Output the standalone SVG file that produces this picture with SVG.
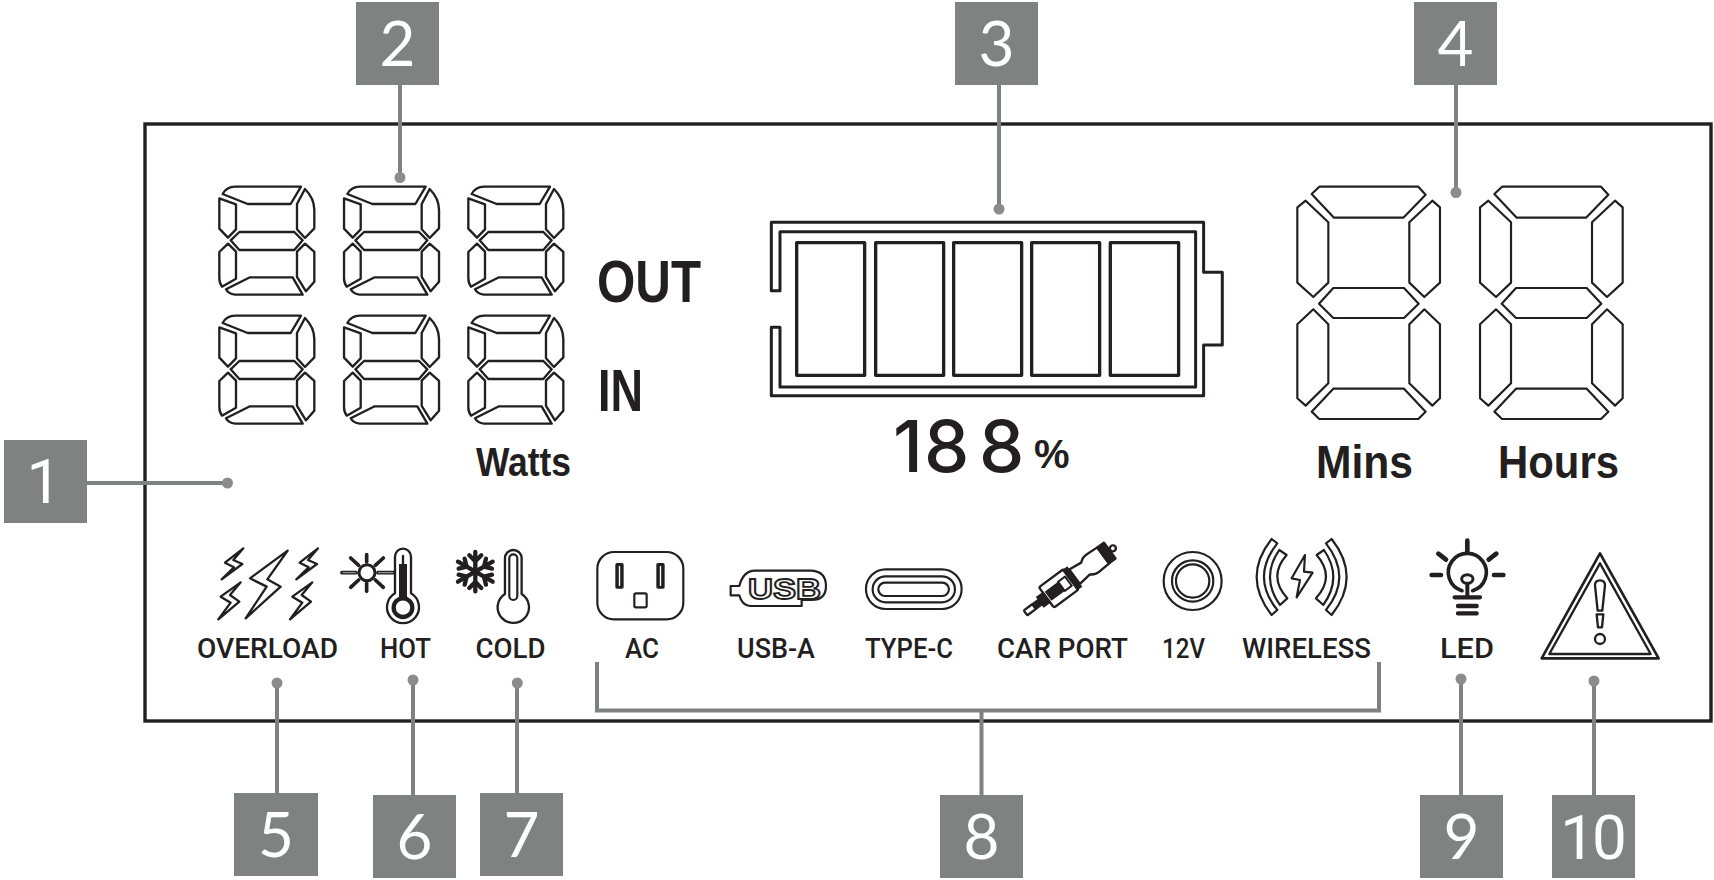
<svg xmlns="http://www.w3.org/2000/svg" xmlns:xlink="http://www.w3.org/1999/xlink" width="1714" height="880" viewBox="0 0 1714 880">
<style>
.o{fill:none;stroke:#231f20;stroke-linejoin:round;stroke-linecap:round}
.f{fill:#231f20}
.b{fill:#808282}
.n{fill:#fff;font-family:"Lato","Open Sans",sans-serif;font-size:62px;text-anchor:middle}
.r{font-family:"Roboto","Open Sans",sans-serif}
.l{fill:#231f20;font-family:"Liberation Sans",Arial,sans-serif;font-weight:700}
.s{font-family:"Roboto","Liberation Sans",sans-serif;font-weight:500;font-size:28px}
.leader{fill:none;stroke:#808282;stroke-width:4}
.dot{fill:#8c8c8c}
</style>
<defs>
<g id="sm" class="o" stroke-width="7">
<path d="M68,72Q80,50 105,50L303,50L272,102L143,102Z"/>
<path d="M58,85L108,103V178L84,203L58,176Z"/>
<path d="M315,57Q343,85 343,120V175L315,204L291,178V102Z"/>
<path d="M92,211L118,186H283L308,211L283,240H118Z"/>
<path d="M84,221L108,245V326L66,350Q58,340 58,325V246Z"/>
<path d="M315,221L343,246V335L318,364L291,321V245Z"/>
<path d="M78,358L150,322H278L308,374H105Q85,372 78,358Z"/>
</g>
<g id="lg" class="o" stroke-width="6.500">
<path d="M125,72L148,50H445L467,74L400,143H192Z"/>
<path d="M82,112L107,92L175,157V338L130,381L82,338Z"/>
<path d="M487,92L510,112V338L463,381L418,338V157Z"/>
<path d="M147,401L190,354H402L446,401L402,444H190Z"/>
<path d="M130,418L175,463V640L107,707L82,685V463Z"/>
<path d="M463,418L510,463V685L487,707L418,640V463Z"/>
<path d="M125,725L190,656H402L467,725L445,747H148Z"/>
</g>
<path id="bolt" d="M100,25L45,68L72,82L35,118L97,72L70,60Z"/>
<path id="bolt2" d="M92,127L32,170L62,188L25,238L88,185L60,165Z"/>
<g id="wave">
<path d="M845,57Q755,171 845,285L862,270Q782,171 862,70Z"/>
<path d="M868,90Q811,172 870,255L892,235Q833,170 890,105Z"/>
</g>
</defs>

<rect id="panel" x="145" y="124" width="1566" height="597" fill="none" stroke="#231f20" stroke-width="3.400"/>

<g id="watts-display">
<use xlink:href="#sm" href="#sm" transform="translate(200,170) scale(.3333)"/>
<use xlink:href="#sm" href="#sm" transform="translate(324.700,170) scale(.3333)"/>
<use xlink:href="#sm" href="#sm" transform="translate(449,170) scale(.3333)"/>
<use xlink:href="#sm" href="#sm" transform="translate(200,299) scale(.3333)"/>
<use xlink:href="#sm" href="#sm" transform="translate(324.700,299) scale(.3333)"/>
<use xlink:href="#sm" href="#sm" transform="translate(449,299) scale(.3333)"/>
<text class="l" x="597" y="302" font-size="60" textLength="104" lengthAdjust="spacingAndGlyphs">OUT</text>
<text class="l" x="598" y="411" font-size="60" textLength="45" lengthAdjust="spacingAndGlyphs">IN</text>
<text class="l" x="476" y="476" font-size="41" textLength="95" lengthAdjust="spacingAndGlyphs">Watts</text>
</g>

<g id="battery">
<g transform="translate(750,200) scale(.3333)">
<path class="o" stroke-width="9" d="M64,272V67H1361V217H1417V435H1361V587H64V382H90V561H1337V95H90V272Z"/>
<g class="o" stroke-width="10">
<rect x="140" y="128" width="204" height="398"/>
<rect x="377" y="128" width="204" height="398"/>
<rect x="611" y="128" width="204" height="398"/>
<rect x="845" y="128" width="204" height="398"/>
<rect x="1081" y="128" width="205" height="398"/>
</g>
</g>
<text class="f" font-family="Inter,'Open Sans',sans-serif" font-weight="500" font-size="72" y="472" x="893 924 979">188<tspan font-family="'Liberation Sans',sans-serif" font-weight="700" font-size="40" x="1034" y="468">%</tspan></text>
</g>

<g id="timer-display">
<use xlink:href="#lg" href="#lg" transform="translate(1270,170) scale(.3333)"/>
<use xlink:href="#lg" href="#lg" transform="translate(1452.700,170) scale(.3333)"/>
<text class="l" x="1316" y="478" font-size="47" textLength="97" lengthAdjust="spacingAndGlyphs">Mins</text>
<text class="l" x="1498" y="478" font-size="47" textLength="121" lengthAdjust="spacingAndGlyphs">Hours</text>
</g>

<g id="overload">
<g transform="translate(210,540) scale(.3333)" class="o" stroke-width="7">
<path d="M233,32L120,115L170,140L107,235L212,140L172,118Z"/>
<use xlink:href="#bolt" href="#bolt"/>
<use xlink:href="#bolt" href="#bolt" transform="translate(224,0)"/>
<use xlink:href="#bolt2" href="#bolt2"/>
<use xlink:href="#bolt2" href="#bolt2" transform="translate(215,0)"/>
</g>
<text class="l s" x="197" y="658" textLength="141" lengthAdjust="spacingAndGlyphs">OVERLOAD</text>
</g>

<g id="hot">
<g transform="translate(340,540) scale(.3333)">
<g class="o" stroke-width="11">
<circle cx="81" cy="98" r="24" stroke-width="9"/>
<path d="M6,98H48M114,98H160M80,44V66M80,130V154M32,54L56,76M130,54L106,76M32,142L56,120M130,142L106,120"/>
</g>
<path d="M8,98H48M114,98H160" fill="none" stroke="#a9a9a9" stroke-width="3"/>
<path class="o" stroke-width="7" fill="#fff" d="M165,50A24,24 0 0 1 213,50V160A48,48 0 1 1 165,160Z"/>
<rect class="f" x="177" y="72" width="24" height="110"/>
<path class="o" stroke-width="7" d="M189,48V72"/>
<circle cx="189" cy="203" r="28" fill="#fff" stroke="#231f20" stroke-width="13"/>
</g>
<text class="l s" x="380" y="658" textLength="51" lengthAdjust="spacingAndGlyphs">HOT</text>
</g>

<g id="cold">
<g transform="translate(190,530) scale(.3333)">
<g class="o" stroke-width="13">
<path d="M856,66V184M804,95L908,155M804,155L908,95"/>
<path d="M838,76L856,94L874,76M838,174L856,156L874,174M806,116L830,110L824,86M906,116L882,110L888,86M806,134L830,140L824,164M906,134L882,140L888,164"/>
</g>
<path class="o" stroke-width="7" d="M945,85A25,25 0 0 1 995,85V192A47,47 0 1 1 945,192Z"/>
<path class="o" stroke-width="6.500" d="M958,85A12,12 0 0 1 982,85V198A12,12 0 0 1 958,198Z"/>
</g>
<text class="l s" x="475.500" y="658" textLength="70" lengthAdjust="spacingAndGlyphs">COLD</text>
</g>

<g id="ac">
<g transform="translate(580,530) scale(.3333)">
<rect class="o" stroke-width="6.500" x="52" y="66" width="258" height="202" rx="50"/>
<rect class="f" x="106" y="99" width="25" height="77" rx="5"/>
<rect class="f" x="229" y="99" width="25" height="77" rx="5"/>
<path d="M118.500,108V168M241.500,108V168" stroke="#fff" stroke-width="4" fill="none"/>
<rect class="o" stroke-width="6.500" x="163" y="190" width="37" height="42" rx="5"/>
</g>
<text class="l s" x="625" y="658" textLength="34" lengthAdjust="spacingAndGlyphs">AC</text>
</g>

<g id="usb-a">
<g transform="translate(580,530) scale(.3333)">
<path class="o" stroke-width="6.500" d="M452,168H478Q490,122 525,122H695Q738,125 738,168Q738,210 695,210H665V228H510Q485,225 478,196H452Z"/>
</g>
<text class="l" x="748" y="599" font-size="29" style="fill:#fff" stroke="#231f20" stroke-width="1.800" textLength="73" lengthAdjust="spacingAndGlyphs">USB</text>
<text class="l s" x="737" y="658" textLength="78" lengthAdjust="spacingAndGlyphs">USB-A</text>
</g>

<g id="type-c">
<g transform="translate(580,530) scale(.3333)" class="o" stroke-width="6.500">
<rect x="858" y="118" width="287" height="119" rx="59"/>
<rect x="878" y="139" width="247" height="78" rx="39"/>
<rect x="895" y="158" width="212" height="40" rx="20"/>
</g>
<text class="l s" x="865" y="658" textLength="88" lengthAdjust="spacingAndGlyphs">TYPE-C</text>
</g>

<g id="car-port">
<g transform="translate(1015,535) scale(.3333)">
<g transform="translate(30,235) rotate(-36.500)">
<g class="o" stroke-width="7">
<rect x="2" y="-9" width="32" height="18" rx="3"/>
<rect x="80" y="-38" width="92" height="76" rx="6"/>
<path d="M185,-27L226,-22Q240,-34 256,-32L292,-30V30L256,32Q240,34 226,22L185,27Z"/>
<circle cx="328" cy="0" r="9"/>
</g>
<rect class="f" x="33" y="-12" width="26" height="24"/>
<rect class="f" x="55" y="-20" width="28" height="40"/>
<rect class="f" x="166" y="-38" width="20" height="76"/>
<rect class="f" x="288" y="-33" width="32" height="66" rx="4"/>
<rect class="f" x="86" y="-17" width="50" height="34"/>
<rect class="o" stroke-width="6" x="136" y="-17" width="26" height="34"/>
</g>
</g>
<text class="l s" x="997" y="658" textLength="131" lengthAdjust="spacingAndGlyphs">CAR PORT</text>
</g>

<g id="twelve-v">
<g transform="translate(990,520) scale(.3333)" class="o" stroke-width="6.500">
<circle cx="608" cy="183" r="87"/>
<circle cx="608" cy="183" r="62"/>
<circle cx="608" cy="183" r="50"/>
</g>
<text class="l s" x="1162" y="658" textLength="43" lengthAdjust="spacingAndGlyphs">12V</text>
</g>

<g id="wireless">
<g transform="translate(990,520) scale(.3333)" class="o" stroke-width="6.500">
<path d="M945,105L905,175L930,180L920,232L968,158L942,155Z"/>
<use xlink:href="#wave" href="#wave"/>
<use xlink:href="#wave" href="#wave" transform="translate(1870,0) scale(-1,1)"/>
</g>
<text class="l s" x="1242" y="658" textLength="129" lengthAdjust="spacingAndGlyphs">WIRELESS</text>
</g>

<g id="led">
<g transform="translate(1400,520) scale(.3333)">
<path class="o" stroke-width="14" d="M202,62V96M115,101L138,119M289,101L266,119M95,165H123M282,165H310"/>
<path class="o" stroke-width="11" d="M186,212A57,57 0 1 1 218,212"/>
<ellipse class="o" stroke-width="9" cx="202" cy="177" rx="17" ry="13"/>
<path class="o" stroke-width="12" d="M202,192V232"/>
<path class="o" stroke-width="13" d="M164,232H240M174,258H230M174,280H230"/>
</g>
<text class="l s" x="1440" y="658" textLength="54" lengthAdjust="spacingAndGlyphs">LED</text>
</g>

<g id="warning">
<g transform="translate(1400,520) scale(.3333)">
<path class="o" stroke-width="8" d="M600,100L776,415H425Z"/>
<path class="o" stroke-width="7" d="M600,130L752,402H448Z"/>
<path class="o" stroke-width="7" d="M600,181Q615,181 615,196L607,272H593L585,196Q585,181 600,181Z"/>
<path class="o" stroke-width="7" d="M590,283H610L606,322H594Z"/>
<circle class="o" stroke-width="7" cx="600" cy="357" r="15"/>
</g>
</g>

<g id="connectors">
<path class="leader" d="M87,483H227"/>
<path class="leader" d="M400,85V177"/>
<path class="leader" d="M999,85V209"/>
<path class="leader" d="M1456,85V193"/>
<path class="leader" d="M277,683V793"/>
<path class="leader" d="M413,680V795"/>
<path class="leader" d="M517,683V793"/>
<path class="leader" d="M597,662V710.500H1379V662M981.500,710.500V795"/>
<path class="leader" d="M1461,679V795"/>
<path class="leader" d="M1594,681V795"/>
<circle class="dot" cx="227.500" cy="483" r="5.500"/>
<circle class="dot" cx="400" cy="177.500" r="5.500"/>
<circle class="dot" cx="999" cy="209" r="5.500"/>
<circle class="dot" cx="1456" cy="192.500" r="5.500"/>
<circle class="dot" cx="277" cy="683" r="5.500"/>
<circle class="dot" cx="413" cy="680" r="5.500"/>
<circle class="dot" cx="517.300" cy="683" r="5.500"/>
<circle class="dot" cx="1461" cy="679" r="5.500"/>
<circle class="dot" cx="1594" cy="681" r="5.500"/>
</g>

<g id="badge-1"><rect class="b" x="4" y="440" width="83" height="83"/><text class="n r" x="44" y="503">1</text></g>
<g id="badge-2"><rect class="b" x="356" y="2" width="83" height="83"/><text class="n" x="397.500" y="66">2</text></g>
<g id="badge-3"><rect class="b" x="955" y="2" width="83" height="83"/><text class="n" x="996.500" y="66">3</text></g>
<g id="badge-4"><rect class="b" x="1414" y="2" width="83" height="83"/><text class="n" x="1455.500" y="66">4</text></g>
<g id="badge-5"><rect class="b" x="234" y="793" width="84" height="83"/><text class="n" x="276" y="857">5</text></g>
<g id="badge-6"><rect class="b" x="373" y="795" width="83" height="83"/><text class="n" x="414.500" y="859">6</text></g>
<g id="badge-7"><rect class="b" x="480" y="793" width="83" height="83"/><text class="n" x="521.500" y="857">7</text></g>
<g id="badge-8"><rect class="b" x="940" y="795" width="83" height="83"/><text class="n" x="981.500" y="859">8</text></g>
<g id="badge-9"><rect class="b" x="1420" y="795" width="83" height="83"/><text class="n" x="1461.500" y="859">9</text></g>
<g id="badge-10"><rect class="b" x="1552" y="795" width="83" height="83"/><text class="n r" x="1592" y="859" letter-spacing="-3">10</text></g>
</svg>
